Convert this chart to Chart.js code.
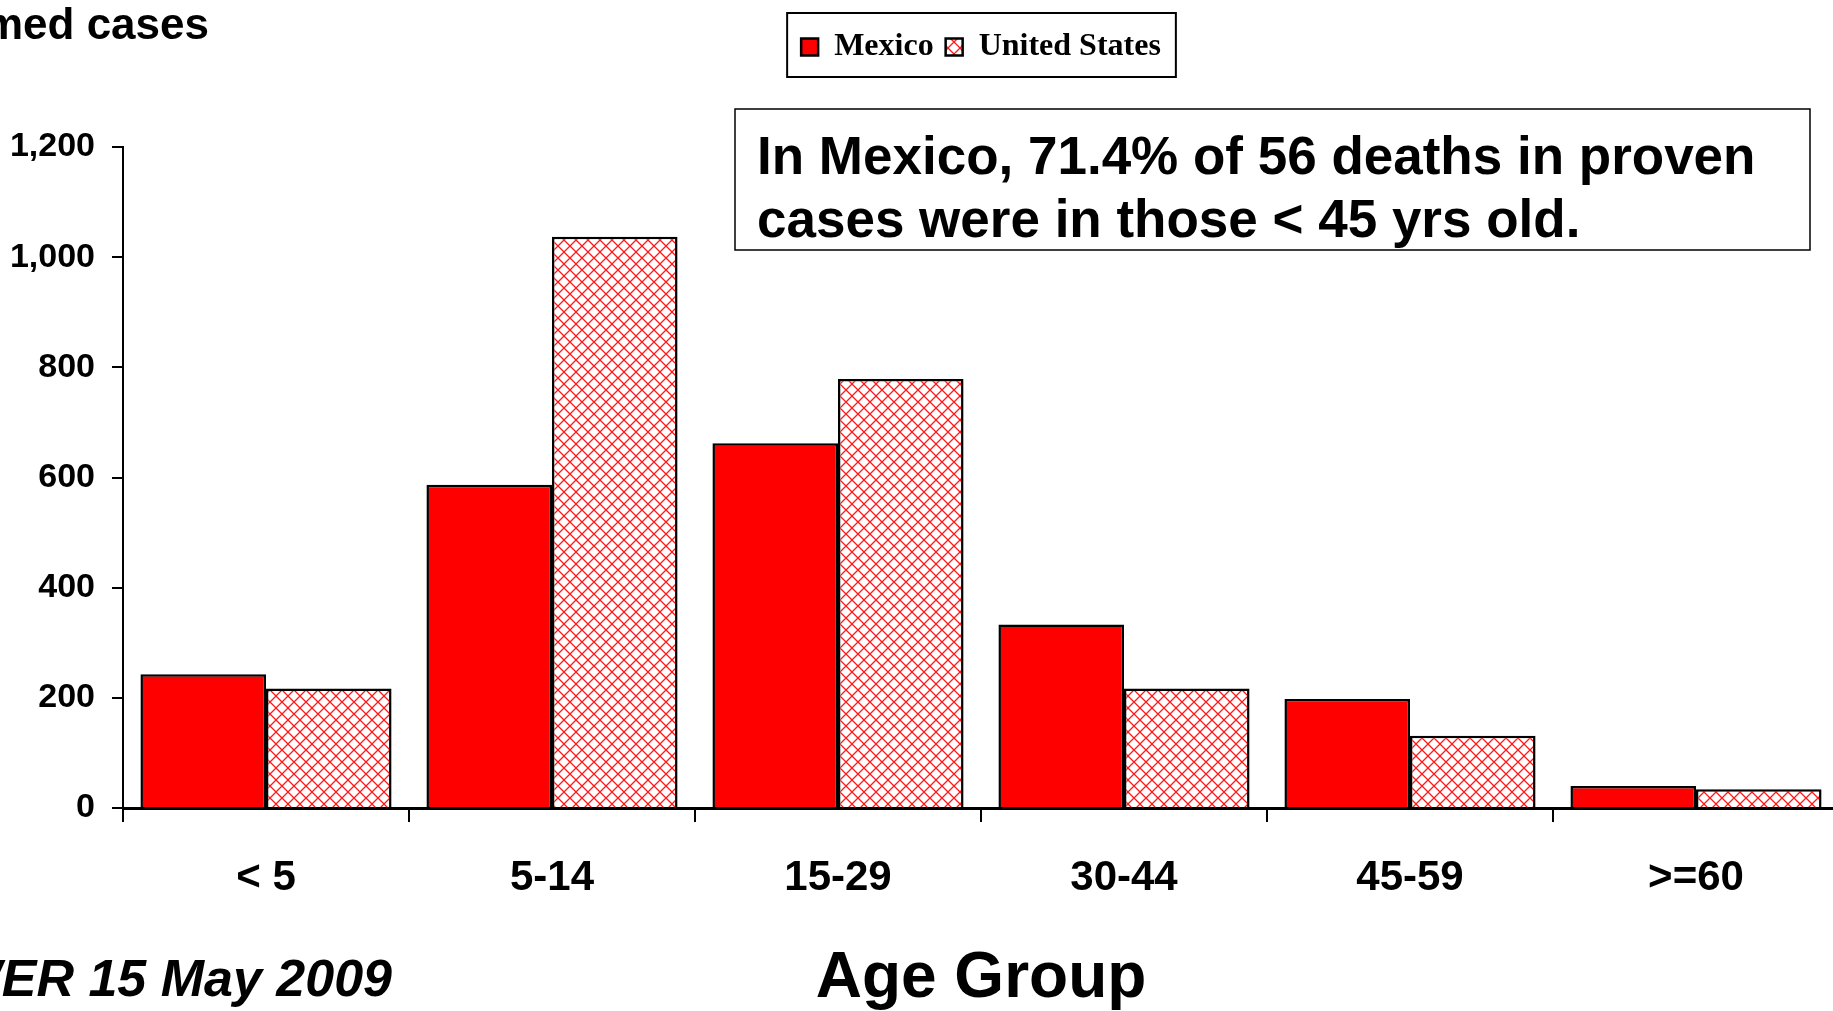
<!DOCTYPE html>
<html>
<head>
<meta charset="utf-8">
<script src="https://cdn.jsdelivr.net/npm/chart.js@4.4.0/dist/chart.umd.min.js"></script>
<style>
  html, body { margin: 0; padding: 0; overflow: hidden; background: #fff; }
  canvas { display: block; }
</style>
</head>
<body>
<canvas id="ageChart" width="1840" height="1030"></canvas>
<script>
const ageGroups = ['< 5', '5-14', '15-29', '30-44', '45-59', '>=60'];
const mexicoCases = [243, 587, 662, 333, 198, 40];
const usCases = [217, 1037, 779, 217, 131, 34];
const yMax = 1200;
const yStep = 200;

const yTitle = 'Number of confirmed cases';
const sourceNote = 'WER 15 May 2009';
const noteLines = ['In Mexico, 71.4% of 56 deaths in proven', 'cases were in those < 45 yrs old.'];

const sans = "'Liberation Sans', Arial, sans-serif";
const serif = "'Liberation Serif', 'Times New Roman', serif";

const ctx = document.getElementById('ageChart').getContext('2d');

// red crosshatch on white for the US bars
function makeHatch() {
    const tile = document.createElement('canvas');
    tile.width = 12;
    tile.height = 12;
    const g = tile.getContext('2d');
    g.fillStyle = '#ffffff';
    g.fillRect(0, 0, 12, 12);
    g.strokeStyle = 'rgba(255, 0, 0, 0.9)';
    g.lineWidth = 1.3;
    g.beginPath();
    g.moveTo(-1, -1); g.lineTo(13, 13);
    g.moveTo(-1, 13); g.lineTo(13, -1);
    g.stroke();
    return ctx.createPattern(tile, 'repeat');
}

// frame round the legend, the note box and the loose texts
const extrasPlugin = {
    id: 'extras',
    afterDraw(chart) {
        const c = chart.ctx;
        const legend = chart.legend;
        c.save();

        if (legend && legend.legendHitBoxes.length) {
            const boxes = legend.legendHitBoxes;
            const first = boxes[0];
            const last = boxes[boxes.length - 1];
            c.strokeStyle = '#000';
            c.lineWidth = 2;
            c.strokeRect(first.left - 14, legend.top - 6, last.left + last.width - first.left + 29, legend.bottom - legend.top + 10);
        }

        // note box
        c.fillStyle = '#fff';
        c.fillRect(735, 109, 1075, 141);
        c.strokeStyle = '#000';
        c.lineWidth = 1.5;
        c.strokeRect(735, 109, 1075, 141);
        c.fillStyle = '#000';
        c.font = 'bold 53px ' + sans;
        c.textAlign = 'left';
        c.textBaseline = 'alphabetic';
        c.fillText(noteLines[0], 757, 174);
        c.fillText(noteLines[1], 757, 237);

        // y title, cut at the left edge
        c.font = 'bold 44px ' + sans;
        c.textAlign = 'right';
        c.fillText(yTitle, 209, 39);

        // source
        c.font = 'italic bold 52px ' + sans;
        c.fillText(sourceNote, 392, 996);

        c.restore();
    }
};

const ageChart = new Chart(ctx, {
    type: 'bar',
    data: {
        labels: ageGroups,
        datasets: [{
            label: 'Mexico',
            data: mexicoCases,
            backgroundColor: '#ff0000',
            borderColor: '#000000',
            borderWidth: 2.5
        }, {
            label: 'United States',
            data: usCases,
            backgroundColor: makeHatch(),
            borderColor: '#000000',
            borderWidth: 2.5
        }]
    },
    options: {
        responsive: false,
        animation: false,
        categoryPercentage: 0.878,
        barPercentage: 1,
        layout: {
            padding: { top: 19, left: 0, right: 1, bottom: 0 }
        },
        plugins: {
            legend: {
                display: true,
                position: 'top',
                fullSize: false,
                weight: 1000,
                labels: {
                    boxWidth: 17,
                    boxHeight: 17,
                    padding: 12,
                    color: '#000',
                    font: { family: serif, size: 32, weight: 'bold' }
                }
            },
            // empty spacer between the legend and the plot
            subtitle: {
                display: true,
                text: '',
                weight: 500,
                font: { size: 10 },
                padding: { top: 31, bottom: 31 }
            },
            tooltip: { enabled: false }
        },
        scales: {
            x: {
                afterFit: function(scale) { scale.height = 222; },
                grid: {
                    display: true,
                    drawOnChartArea: false,
                    drawTicks: true,
                    tickLength: 14,
                    color: '#000',
                    lineWidth: 2
                },
                border: { display: true, color: '#000', width: 3 },
                ticks: {
                    color: '#000',
                    padding: 31,
                    font: { family: sans, size: 42, weight: 'bold' }
                },
                title: {
                    display: true,
                    text: 'Age Group',
                    color: '#000',
                    font: { family: sans, size: 64, weight: 'bold' },
                    padding: { top: 0, bottom: 12 }
                }
            },
            y: {
                min: 0,
                max: yMax,
                afterFit: function(scale) { scale.width = 123; },
                grid: {
                    display: true,
                    drawOnChartArea: false,
                    drawTicks: true,
                    tickLength: 11,
                    color: '#000',
                    lineWidth: 2
                },
                border: { display: true, color: '#000', width: 2 },
                ticks: {
                    stepSize: yStep,
                    color: '#000',
                    padding: 17,
                    font: { family: sans, size: 34, weight: 'bold' }
                }
            }
        }
    },
    plugins: [extrasPlugin]
});
</script>
</body>
</html>
